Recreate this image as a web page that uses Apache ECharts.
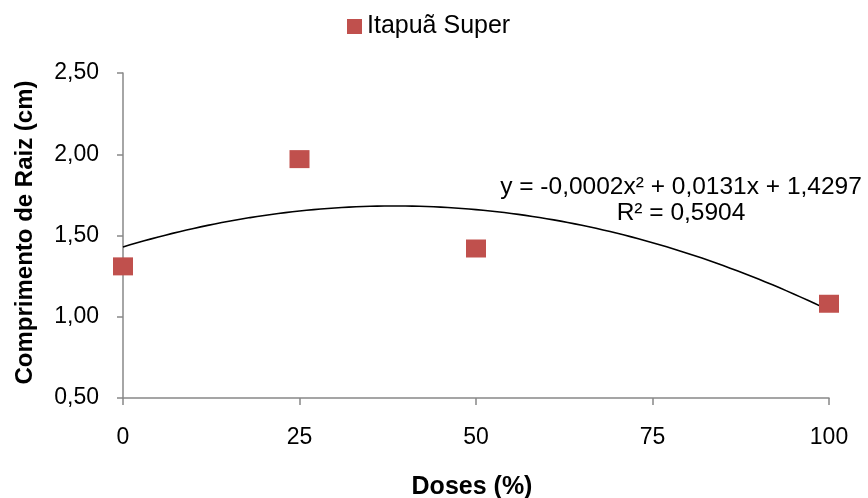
<!DOCTYPE html>
<html>
<head>
<meta charset="utf-8">
<script src="https://cdn.jsdelivr.net/npm/echarts@6/dist/echarts.min.js"></script>
<style>
  html, body { margin: 0; padding: 0; background: #fff; }
  #chart { width: 868px; height: 498px; }
</style>
</head>
<body>
<div id="chart"></div>
<script>
// dados
const doses = [0, 25, 50, 100];
const comprimento = [1.31, 1.97, 1.42, 1.08];
const xTicks = [0, 25, 50, 75, 100];
const yTicks = ['0,50', '1,00', '1,50', '2,00', '2,50'];
const equacao = 'y = -0,0002x² + 0,0131x + 1,4297';
const r2 = 'R² = 0,5904';

// ajuste polinomial de 2ª ordem (mínimos quadrados)
function fitQuad(xs, ys) {
    let s = [0, 0, 0, 0, 0], t = [0, 0, 0];
    xs.forEach((x, i) => {
        for (let k = 0; k < 5; k++) s[k] += Math.pow(x, k);
        for (let k = 0; k < 3; k++) t[k] += ys[i] * Math.pow(x, k);
    });
    const m = [
        [s[0], s[1], s[2], t[0]],
        [s[1], s[2], s[3], t[1]],
        [s[2], s[3], s[4], t[2]]
    ];
    for (let i = 0; i < 3; i++) {
        for (let j = i + 1; j < 3; j++) {
            const f = m[j][i] / m[i][i];
            for (let k = i; k < 4; k++) m[j][k] -= f * m[i][k];
        }
    }
    const c = [0, 0, 0];
    for (let i = 2; i >= 0; i--) {
        let v = m[i][3];
        for (let k = i + 1; k < 3; k++) v -= m[i][k] * c[k];
        c[i] = v / m[i][i];
    }
    return c; // c0 + c1 x + c2 x²
}

const coef = fitQuad(doses, comprimento);
const curva = [];
for (let x = 0; x <= 100; x += 1) {
    curva.push([x, coef[0] + coef[1] * x + coef[2] * x * x]);
}

const chart = echarts.init(document.getElementById('chart'));
const fonte = 'Liberation Sans, Arial, sans-serif';
const vermelho = '#c0504d';

chart.setOption({
    animation: false,
    backgroundColor: '#fff',
    legend: {
        top: 9,
        left: 342,
        itemWidth: 15,
        itemHeight: 15,
        data: [{ name: 'Itapuã Super', icon: 'rect', itemStyle: { color: vermelho, opacity: 1 } }],
        textStyle: { fontFamily: fonte, fontSize: 25, color: '#000' }
    },
    grid: { left: 123, right: 39, top: 73, bottom: 100, containLabel: false, outerBoundsMode: 'none' },
    xAxis: {
        type: 'value',
        min: 0,
        max: 100,
        interval: 25,
        name: 'Doses (%)',
        nameLocation: 'middle',
        nameGap: 77,
        nameTextStyle: { fontFamily: fonte, fontSize: 25, fontWeight: 'bold', color: '#000', padding: [0, 8, 0, 0] },
        axisLine: { lineStyle: { color: '#888', width: 1.5 } },
        axisTick: { show: true, length: 7, lineStyle: { color: '#888', width: 1.5 } },
        axisLabel: {
            margin: 28,
            fontFamily: fonte, fontSize: 23, color: '#000',
            formatter: v => xTicks.includes(v) ? String(v) : ''
        },
        splitLine: { show: false }
    },
    yAxis: {
        type: 'value',
        min: 0.5,
        max: 2.5,
        interval: 0.5,
        name: 'Comprimento de Raiz (cm)',
        nameLocation: 'middle',
        nameGap: 86,
        nameTextStyle: { fontFamily: fonte, fontSize: 24, fontWeight: 'bold', color: '#000', padding: [0, 0, 0, 6] },
        axisLine: { show: true, lineStyle: { color: '#888', width: 1.5 } },
        axisTick: { show: true, length: 6, lineStyle: { color: '#888', width: 1.5 } },
        axisLabel: {
            margin: 24,
            fontFamily: fonte, fontSize: 23, color: '#000',
            formatter: v => yTicks[Math.round((v - 0.5) / 0.5)]
        },
        splitLine: { show: false }
    },
    series: [
        {
            name: 'tendencia',
            type: 'line',
            data: curva,
            showSymbol: false,
            lineStyle: { color: '#000', width: 1.6 },
            silent: true,
            z: 1
        },
        {
            name: 'Itapuã Super',
            type: 'scatter',
            data: doses.map((x, i) => [x, comprimento[i]]),
            symbol: 'rect',
            symbolSize: [20, 18],
            itemStyle: { color: vermelho, opacity: 1 },
            z: 2
        }
    ],
    graphic: [
        {
            type: 'text',
            x: 681,
            y: 174,
            style: {
                text: equacao + '\n' + r2,
                fontFamily: fonte,
                fontSize: 24.5,
                lineHeight: 26,
                fill: '#000',
                align: 'center',
                verticalAlign: 'top'
            }
        }
    ]
});
</script>
</body>
</html>
